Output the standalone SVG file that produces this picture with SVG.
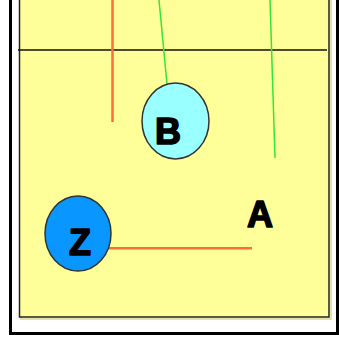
<svg xmlns="http://www.w3.org/2000/svg" width="339" height="345" viewBox="0 0 339 345">
  <style>
    .lbl { font-family: "Liberation Sans", "DejaVu Sans", Arial, sans-serif; font-weight: bold; font-size: 36px; fill: #000; stroke: #000; stroke-width: 1.6; stroke-linejoin: round; text-anchor: middle; }
    .node { stroke: #333; stroke-width: 1.5; }
    .orange { stroke: #ff6e3a; stroke-width: 2.5; fill: none; }
    .green { stroke: #33e633; stroke-width: 1.5; fill: none; }
  </style>
  <rect x="0" y="0" width="339" height="345" fill="#fff"/>
  <rect id="frame" x="10.5" y="-10" width="327" height="343.5" fill="#fff" stroke="#000" stroke-width="3"/>
  <rect id="panel-shadow" x="21" y="-10" width="310" height="329" fill="none" stroke="#d8d890" stroke-width="1.5"/>
  <rect id="panel" x="19.5" y="-10" width="309.5" height="327" fill="#ffff99" stroke="#222" stroke-width="1.5"/>
  <line id="divider" x1="18" y1="50" x2="327" y2="50" stroke="#111" stroke-width="1.5"/>
  <g id="connectors">
    <line class="orange" x1="112.5" y1="0" x2="112.5" y2="122"/>
    <line class="green" x1="159" y1="0" x2="167" y2="84"/>
    <line class="green" x1="270" y1="0" x2="275" y2="158"/>
    <line class="orange" x1="108" y1="248.3" x2="252" y2="248.3"/>
  </g>
  <g id="node-B">
    <ellipse class="node" cx="175.5" cy="121" rx="33.5" ry="38" fill="#99ffff"/>
    <text class="lbl" x="168" y="143.5">B</text>
  </g>
  <g id="node-Z">
    <ellipse class="node" cx="78" cy="233.5" rx="33" ry="37.5" fill="#0a96ff"/>
    <text class="lbl" x="80" y="254.5">Z</text>
  </g>
  <g id="node-A">
    <text class="lbl" x="260" y="226.5">A</text>
  </g>
</svg>
